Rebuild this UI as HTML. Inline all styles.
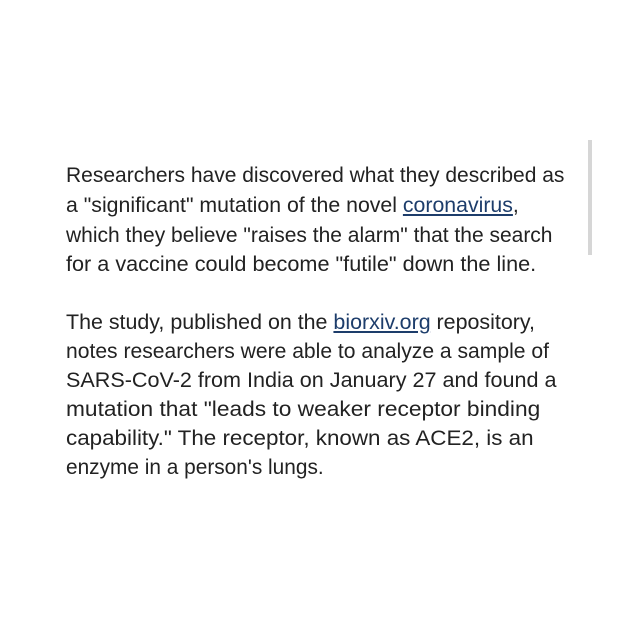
<!DOCTYPE html>
<html><head><meta charset="utf-8">
<style>
html,body{margin:0;padding:0;background:#fff;width:640px;height:640px;overflow:hidden}
.l{position:absolute;left:66px;height:30px;line-height:30px;font-family:"Liberation Sans",sans-serif;font-size:21px;color:#222;white-space:nowrap;transform-origin:0 50%}
a{color:#1d3d6b;text-decoration:underline}
#sb{position:absolute;left:588px;top:140px;width:4px;height:115px;background:#d6d6d6}
</style></head><body>
<div>
<div class="l" style="top:161px" data-w="498">Researchers have discovered what they described as</div>
<div class="l" style="top:191px" data-w="453">a "significant" mutation of the novel <a href="#">coronavirus</a>,</div>
<div class="l" style="top:221px" data-w="487">which they believe "raises the alarm" that the search</div>
<div class="l" style="top:250px" data-w="470">for a vaccine could become "futile" down the line.</div>
<div class="l" style="top:308px" data-w="469">The study, published on the <a href="#">biorxiv.org</a> repository,</div>
<div class="l" style="top:337px" data-w="483">notes researchers were able to analyze a sample of</div>
<div class="l" style="top:366px" data-w="490">SARS-CoV-2 from India on January 27 and found a</div>
<div class="l" style="top:395px" data-w="474">mutation that "leads to weaker receptor binding</div>
<div class="l" style="top:424px" data-w="468">capability." The receptor, known as ACE2, is an</div>
<div class="l" style="top:453px" data-w="258">enzyme in a person's lungs.</div>
</div>
<div id="sb"></div>
<script>
document.querySelectorAll('.l').forEach(function(el){
  var w=el.scrollWidth, t=+el.getAttribute('data-w');
  if(w>0) el.style.transform='scaleX('+(t/w)+')';
});
</script>
</body></html>
